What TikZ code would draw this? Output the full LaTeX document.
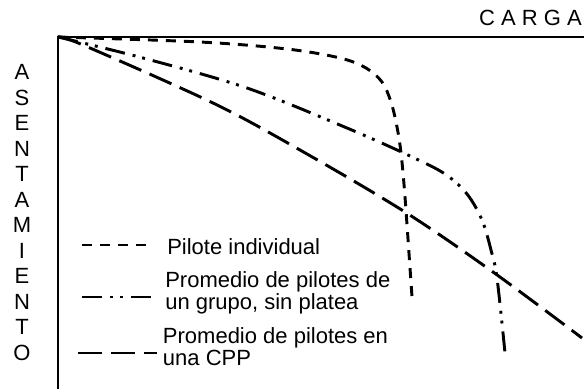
\documentclass[tikz,border=0pt]{standalone}
\usepackage{fontspec}
\setmainfont{Liberation Sans}
\usetikzlibrary{calc}

\begin{document}
\begin{tikzpicture}[
    x=0.75pt, y=-0.75pt,
    axis/.style={line width=1.3pt},
    curve/.style={line width=2.2pt},
    pilote/.style={curve, dash pattern=on 7.5pt off 6pt},
    grupo/.style={curve, dash pattern=on 15pt off 6pt on 2.2pt off 5.2pt on 2.2pt off 6pt},
    cpp/.style={curve, dash pattern=on 18pt off 6.75pt},
    axlabel/.style={font=\fontsize{16.5}{19.1}\selectfont, inner sep=0pt, align=center},
    label/.style={font=\fontsize{16.5}{16.5}\selectfont, inner sep=0pt, align=left, anchor=west}
]
\useasboundingbox (0,0) rectangle (584,389);

%%%%%%%%%%%%%%%%%%%%%%%%%%%%%%%%%%%%%%%%%%%%%%%%%%%%%%%%%%%%%%%%%%%
% Axes
%%%%%%%%%%%%%%%%%%%%%%%%%%%%%%%%%%%%%%%%%%%%%%%%%%%%%%%%%%%%%%%%%%%
\coordinate (origen) at (58, 37);
\draw[axis] (584, 37) -- (origen) -- (58, 389);

\node[axlabel, anchor=east] (carga) at (582, 17.5) {C A R G A};
\node[axlabel] (asentamiento) at (22, 212.5)
    {A\\S\\E\\N\\T\\A\\M\\I\\E\\N\\T\\O};

%%%%%%%%%%%%%%%%%%%%%%%%%%%%%%%%%%%%%%%%%%%%%%%%%%%%%%%%%%%%%%%%%%%
% Curves
%%%%%%%%%%%%%%%%%%%%%%%%%%%%%%%%%%%%%%%%%%%%%%%%%%%%%%%%%%%%%%%%%%%

% Pilote individual
\draw[pilote] plot[smooth, tension=0.55] coordinates {(58,37) (200,42) (287,49) (340,58)
    (366,68) (382,82) (391,102) (397,127) (401,153) (405,197) (412,297)};

% Grupo sin platea
\draw[grupo] plot[smooth, tension=0.55] coordinates {(58,37) (143,58) (247,88) (347,128)
    (410,156) (445,174) (467,194) (482,220) (491,250) (497,278) (505,353)};

% CPP
\draw[cpp] plot[smooth, tension=0.55] coordinates {(58,37) (83,45) (213,103) (300,150)
    (405,212) (493,272) (582,338)};

%%%%%%%%%%%%%%%%%%%%%%%%%%%%%%%%%%%%%%%%%%%%%%%%%%%%%%%%%%%%%%%%%%%
% Legend
%%%%%%%%%%%%%%%%%%%%%%%%%%%%%%%%%%%%%%%%%%%%%%%%%%%%%%%%%%%%%%%%%%%
\node[label] (pilote_lbl) at (167, 247) {Pilote individual};
\draw[pilote] (82, 245) -- (150, 245);

\node[label] (grupo_lbl) at (165, 293.3) {Promedio de pilotes de\\un grupo, sin platea};
\draw[grupo] (82, 297) -- (157, 297);

\node[label] (cpp_lbl) at (162.7, 346.2) {Promedio de pilotes en\\una CPP};
\draw[cpp] (78, 353) -- (157, 353);

\end{tikzpicture}
\end{document}
